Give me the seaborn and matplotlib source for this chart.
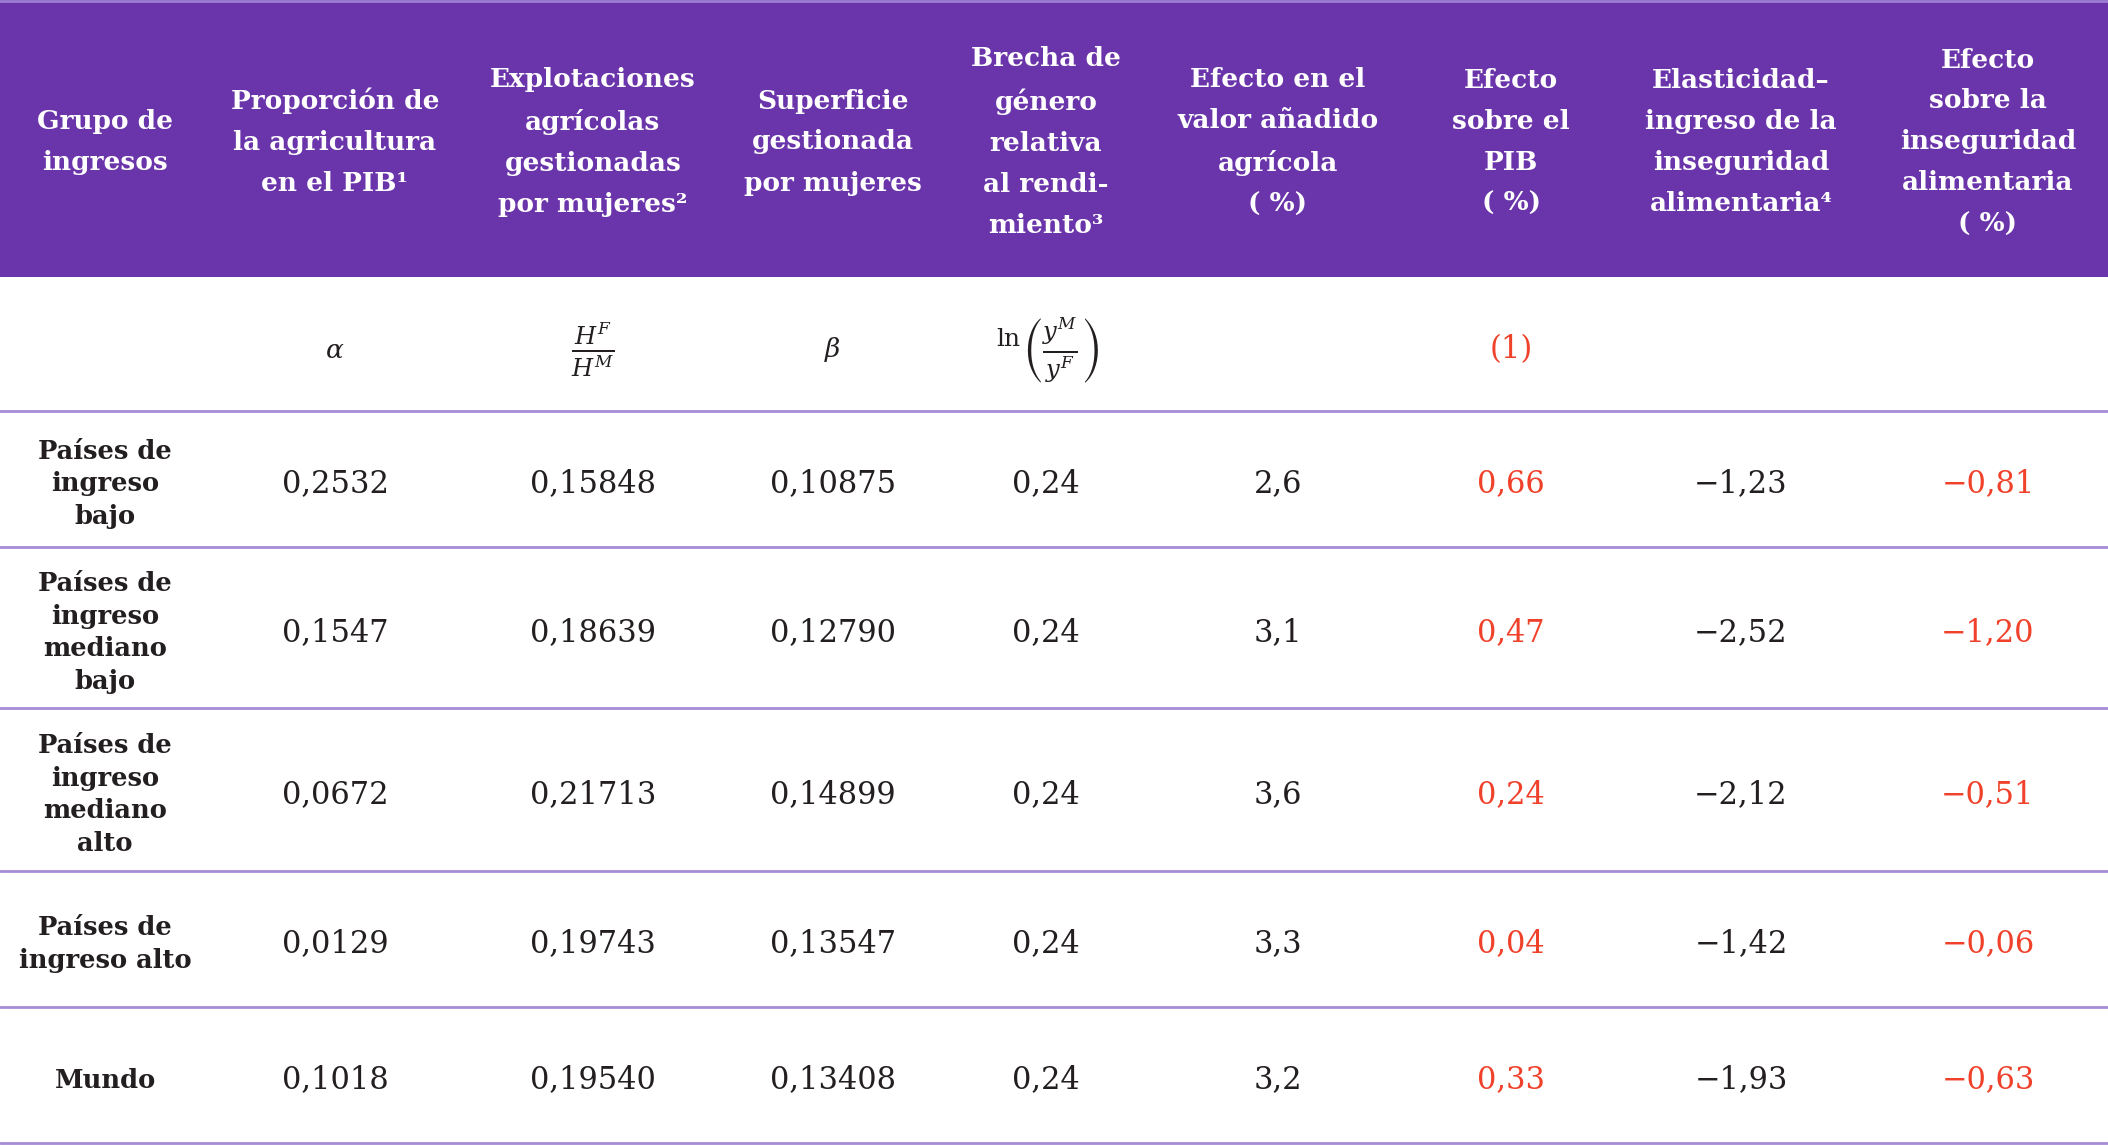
import matplotlib
matplotlib.use("Agg")
import matplotlib.pyplot as plt
import seaborn as sns

# datos de la tabla
encabezados = [
    "Grupo de\ningresos",
    "Proporción de\nla agricultura\nen el PIB¹",
    "Explotaciones\nagrícolas\ngestionadas\npor mujeres²",
    "Superficie\ngestionada\npor mujeres",
    "Brecha de\ngénero\nrelativa\nal rendi-\nmiento³",
    "Efecto en el\nvalor añadido\nagrícola\n( %)",
    "Efecto\nsobre el\nPIB\n( %)",
    "Elasticidad–\ningreso de la\ninseguridad\nalimentaria⁴",
    "Efecto\nsobre la\ninseguridad\nalimentaria\n( %)",
]
formulas = ["", r"$\alpha$", r"$\frac{H^F}{H^M}$", r"$\beta$",
            r"$\left(\frac{y^M}{y^F}\right)$", "", "(1)", "", ""]
grupos = ["Países de\ningreso\nbajo", "Países de\ningreso\nmediano\nbajo",
          "Países de\ningreso\nmediano\nalto", "Países de\ningreso alto", "Mundo"]
alpha = [0.2532, 0.1547, 0.0672, 0.0129, 0.1018]
hf_hm = [0.15848, 0.18639, 0.21713, 0.19743, 0.19540]
beta = [0.10875, 0.12790, 0.14899, 0.13547, 0.13408]
brecha = [0.24, 0.24, 0.24, 0.24, 0.24]
efecto_va = [2.6, 3.1, 3.6, 3.3, 3.2]
efecto_pib = [0.66, 0.47, 0.24, 0.04, 0.33]
elasticidad = [-1.23, -2.52, -2.12, -1.42, -1.93]
efecto_inseg = [-0.81, -1.20, -0.51, -0.06, -0.63]
decimales = [4, 5, 5, 2, 1, 2, 2, 2]
columnas_rojas = [6, 8]

columnas = [alpha, hf_hm, beta, brecha, efecto_va, efecto_pib, elasticidad, efecto_inseg]

MORADO = "#6A35AA"
LINEA = "#A68BD6"
ROJO = "#F0412B"
OSCURO = "#231F20"

def fmt(v, d):
    s = f"{abs(v):.{d}f}".replace(".", ",")
    return ("−" if v < 0 else "") + s

sns.set_theme(style="white")
plt.rcParams["font.family"] = ["DejaVu Serif", "DejaVu Sans"]
plt.rcParams["mathtext.fontset"] = "dejavuserif"

W, H = 2108, 1145
fig = plt.figure(figsize=(W / 100, H / 100), dpi=100)
ax = fig.add_axes([0, 0, 1, 1])
ax.set_xlim(0, W)
ax.set_ylim(H, 0)
ax.axis("off")

x_centros = [105, 335, 593, 833, 1046, 1278, 1511, 1741, 1988]
y_lineas = [277, 411, 547, 708, 871, 1007, 1143]

# encabezado
ax.axhspan(0, y_lineas[0], color=MORADO, lw=0)
ax.axhline(1, color="#9C7FD4", lw=2)
for x, t in zip(x_centros, encabezados):
    ax.text(x, 142, t, ha="center", va="center", color="white", fontsize=19,
            fontweight="bold", linespacing=1.8)

# fila de fórmulas
tam_formula = [0, 19, 25, 19, 25, 0, 22, 0, 0]
for i, (x, t) in enumerate(zip(x_centros, formulas)):
    if t:
        if i == 4:
            ax.text(x - 25, 340, r"$\ln$", ha="right", va="center", fontsize=18,
                    color=OSCURO)
            x = x + 14
        ax.text(x, 350, t, ha="center", va="center", fontsize=tam_formula[i],
                color=ROJO if i == 6 else OSCURO)

for y in y_lineas[1:]:
    ax.axhline(y, color=LINEA, lw=2)

# filas de datos
for r, g in enumerate(grupos):
    yc = (y_lineas[r + 1] + y_lineas[r + 2]) / 2 + 5
    ax.text(x_centros[0], yc, g, ha="center", va="center", fontsize=18.5,
            fontweight="bold", color=OSCURO, linespacing=1.38)
    for c, col in enumerate(columnas):
        color = ROJO if (c + 1) in columnas_rojas else OSCURO
        ax.text(x_centros[c + 1], yc, fmt(col[r], decimales[c]), ha="center",
                va="center", fontsize=22, color=color)

fig.savefig("out.png", dpi=100, facecolor="white")
